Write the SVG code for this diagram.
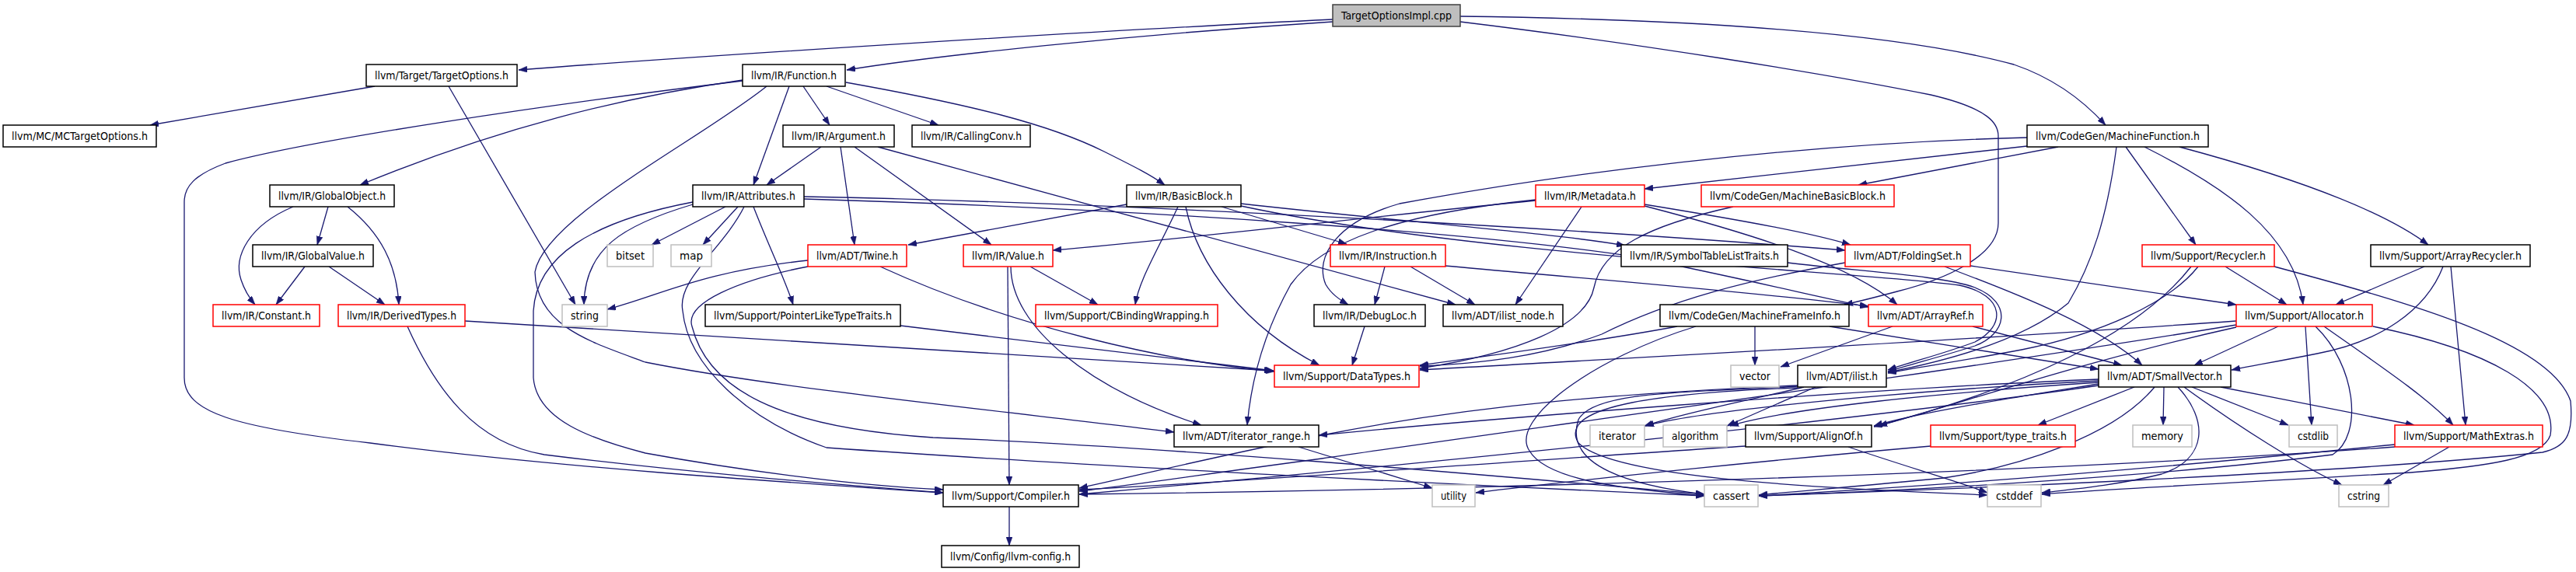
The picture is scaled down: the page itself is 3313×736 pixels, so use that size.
<svg xmlns="http://www.w3.org/2000/svg" width="3313" height="736" viewBox="0 0 3313 736">
<style>
.n rect{fill:#fff;stroke:#000;stroke-width:1.5}
.n.r rect{stroke:#f00}
.n.g rect{stroke:#bfbfbf}
.n.root rect{fill:#bfbfbf;stroke:#404040}
.n text{font-family:"DejaVu Sans Condensed","DejaVu Sans","Liberation Sans",sans-serif;font-size:14px;text-anchor:middle;fill:#000}
#edges path{fill:none;stroke:#191970;stroke-width:1.3;marker-end:url(#ah)}
</style>
<defs>
<marker id="ah" markerUnits="userSpaceOnUse" markerWidth="11" markerHeight="8" refX="11" refY="4" orient="auto">
<path d="M0,0 L11,4 L0,8 z" fill="#191970" stroke="#191970" stroke-width="0.5"/>
</marker>
</defs>
<rect width="3313" height="736" fill="#fff"/>
<g id="edges">
<path d="M1714,25 C1400,40 900,72 667,90"/>
<path d="M1714,28 C1450,45 1200,72 1089,90"/>
<path d="M1878,21 C2200,25 2450,45 2590,83 C2640,100 2680,130 2708,161"/>
<path d="M1878,28 C2100,55 2350,95 2483,122 C2560,140 2570,160 2570,175 L2570,287 C2570,330 2500,360 2440,375 C2410,383 2390,388 2372,392"/>
<path d="M482,111 L193,161"/>
<path d="M577,111 L740,392"/>
<path d="M1033,111 L1067,161"/>
<path d="M1063,111 L1207,161"/>
<path d="M1088,106 C1250,135 1350,160 1420,195 C1460,215 1480,225 1498,238"/>
<path d="M1015,111 L969,238"/>
<path d="M955,103 C800,125 640,165 463,238"/>
<path d="M955,104 C700,135 400,180 290,210 C250,225 237,240 237,260 L237,486 C237,530 300,550 476,570 C700,600 1000,620 1213,634"/>
<path d="M986,111 C900,180 700,280 688,350 C690,420 760,440 830,466 C1000,500 1300,530 1510,556"/>
<path d="M1056,189 L986,238"/>
<path d="M1081,189 L1099,315"/>
<path d="M1099,189 L1275,315"/>
<path d="M1129,189 L1872,392"/>
<path d="M422,266 L408,315"/>
<path d="M377,266 C320,290 300,330 310,360 C315,375 322,385 328,392"/>
<path d="M447,266 C490,300 510,340 513,392"/>
<path d="M392,343 L355,392"/>
<path d="M423,343 L495,392"/>
<path d="M933,266 L838,315"/>
<path d="M949,266 L904,315"/>
<path d="M969,266 C990,320 1010,360 1020,392"/>
<path d="M1034,253 C1500,262 2100,300 2373,322"/>
<path d="M1034,256 C1500,270 1900,300 2100,330 C2250,360 2350,385 2403,395"/>
<path d="M891,263 C800,290 752,320 751,392"/>
<path d="M891,260 C760,285 690,330 686,400 L686,486 C690,540 760,565 830,583 C950,605 1100,625 1213,630"/>
<path d="M957,266 C930,320 870,360 878,400 C885,470 960,540 1063,576 C1400,600 1900,625 2192,638"/>
<path d="M1039,343 C950,360 880,390 890,420 C910,500 1000,550 1200,563 C1500,575 1900,610 2192,636"/>
<path d="M1039,335 C900,350 850,380 781,398"/>
<path d="M1132,343 C1300,420 1500,465 1639,478"/>
<path d="M1296,343 L1298,624"/>
<path d="M1300,343 C1300,420 1400,500 1545,547"/>
<path d="M1325,343 L1412,392"/>
<path d="M1449,263 L1168,315"/>
<path d="M1515,266 C1490,320 1465,360 1460,392"/>
<path d="M1525,266 C1540,340 1600,420 1697,470"/>
<path d="M1571,266 L1732,314"/>
<path d="M1596,262 C1800,285 2000,300 2090,316"/>
<path d="M1596,265 C1900,330 2400,350 2520,367 C2580,380 2580,420 2540,440 C2500,455 2460,465 2428,476"/>
<path d="M2299,338 C2400,350 2500,355 2540,370 C2590,390 2580,430 2540,445 C2500,458 2460,468 2428,478"/>
<path d="M1781,343 L1768,392"/>
<path d="M1814,343 L1897,392"/>
<path d="M1858,342 C2000,355 2250,375 2403,394"/>
<path d="M1975,258 C1750,280 1550,305 1354,322"/>
<path d="M1975,257 C1800,275 1700,310 1660,366 C1630,420 1610,480 1604,547"/>
<path d="M2607,177 C2300,185 2000,225 1800,262 C1720,285 1690,330 1705,366 C1712,378 1722,385 1734,392"/>
<path d="M2034,266 L1949,392"/>
<path d="M2115,263 C2250,285 2330,300 2380,315"/>
<path d="M2115,265 C2250,300 2380,340 2440,392"/>
<path d="M2229,266 C2120,290 2060,320 2050,370 C2040,420 1950,455 1826,474"/>
<path d="M2607,188 L2115,243"/>
<path d="M2647,189 L2390,238"/>
<path d="M2722,189 C2710,280 2690,340 2660,390 C2600,440 2500,465 2428,479"/>
<path d="M2734,189 L2824,315"/>
<path d="M2758,189 C2860,240 2950,300 2962,392"/>
<path d="M2803,189 C2900,215 3050,260 3123,315"/>
<path d="M2257,420 L2257,470"/>
<path d="M2157,420 C2050,440 1900,460 1826,470"/>
<path d="M2181,420 C2050,460 1940,540 1967,580 C1990,620 2100,630 2192,638"/>
<path d="M2353,420 L2699,475"/>
<path d="M2434,420 L2290,472"/>
<path d="M2537,420 L2729,470"/>
<path d="M2373,338 C2250,360 2150,385 2060,430 C1980,460 1900,468 1826,471"/>
<path d="M2501,343 C2600,380 2700,420 2755,470"/>
<path d="M2534,342 L2876,392"/>
<path d="M2862,343 L2941,392"/>
<path d="M2827,343 C2790,390 2700,430 2600,450 C2520,465 2470,472 2428,480"/>
<path d="M2818,343 C2750,430 2600,500 2410,549"/>
<path d="M2925,343 C3100,390 3280,440 3306,516 C3310,560 3300,575 3270,582 C3000,610 2500,630 2262,638"/>
<path d="M3118,343 L3004,392"/>
<path d="M3142,343 C3120,400 3060,440 2980,455 C2930,465 2900,470 2870,476"/>
<path d="M3152,343 L3171,547"/>
<path d="M2876,413 C2500,440 2100,460 1826,476"/>
<path d="M2930,420 L2822,470"/>
<path d="M2965,420 L2973,547"/>
<path d="M2989,420 C3060,470 3120,510 3155,547"/>
<path d="M2876,421 C2700,460 2550,510 2416,548"/>
<path d="M2876,418 C2500,480 1900,560 1700,590 C1550,610 1450,625 1388,632"/>
<path d="M2978,420 C3030,470 3040,560 3000,585 C2800,610 2500,630 2262,638"/>
<path d="M3052,420 C3200,450 3290,500 3280,560 C3270,590 3200,600 3100,608 C2900,620 2700,630 2626,636"/>
<path d="M2745,498 L2621,547"/>
<path d="M2783,498 L2782,547"/>
<path d="M2819,498 L2943,547"/>
<path d="M2809,498 C2880,550 2960,600 3012,624"/>
<path d="M2856,498 L3105,547"/>
<path d="M2801,498 C2840,540 2840,590 2780,610 C2720,625 2660,630 2626,634"/>
<path d="M2771,498 C2720,560 2600,600 2500,615 C2400,625 2300,633 2262,637"/>
<path d="M2699,488 C2400,500 1900,540 1696,560"/>
<path d="M2699,490 C2500,500 2200,525 2116,548"/>
<path d="M2699,492 C2500,505 2300,525 2225,548"/>
<path d="M2699,494 C2600,510 2470,530 2410,548"/>
<path d="M2699,496 C2400,540 1800,600 1388,636"/>
<path d="M3150,575 L3065,624"/>
<path d="M3080,572 C2800,600 2500,625 2262,638"/>
<path d="M3080,575 C2600,610 1900,630 1388,636"/>
<path d="M2377,575 C2450,600 2520,620 2556,634"/>
<path d="M2245,574 C2000,590 1600,620 1388,630"/>
<path d="M2483,574 C2300,590 2050,615 1898,634"/>
<path d="M2320,498 C2250,515 2170,530 2115,548"/>
<path d="M2335,498 L2221,548"/>
<path d="M2312,497 C2200,505 2050,500 2030,540 C2010,600 2100,625 2192,636"/>
<path d="M2312,499 C2150,505 2000,520 2030,570 C2080,620 2400,630 2556,637"/>
<path d="M2312,496 C2100,505 1900,520 1700,560 C1550,590 1450,615 1388,628"/>
<path d="M1670,575 L1842,628"/>
<path d="M598,413 C1000,440 1400,465 1637,477"/>
<path d="M524,420 C560,500 610,570 700,585 C900,610 1100,625 1213,634"/>
<path d="M1158,419 L1638,477"/>
<path d="M1755,420 L1739,470"/>
<path d="M1298,652 L1298,702"/>
</g>
<g id="n0" class="n root"><rect x="1714" y="6" width="164" height="28"/><text x="1796" y="25" textLength="142" lengthAdjust="spacingAndGlyphs">TargetOptionsImpl.cpp</text></g>
<g id="n1" class="n"><rect x="471" y="83" width="194" height="28"/><text x="568" y="102" textLength="172" lengthAdjust="spacingAndGlyphs">llvm/Target/TargetOptions.h</text></g>
<g id="n2" class="n"><rect x="955" y="83" width="132" height="28"/><text x="1021" y="102" textLength="110" lengthAdjust="spacingAndGlyphs">llvm/IR/Function.h</text></g>
<g id="n3" class="n"><rect x="4" y="161" width="197" height="28"/><text x="102.5" y="180" textLength="175" lengthAdjust="spacingAndGlyphs">llvm/MC/MCTargetOptions.h</text></g>
<g id="n4" class="n"><rect x="1007" y="161" width="143" height="28"/><text x="1078.5" y="180" textLength="121" lengthAdjust="spacingAndGlyphs">llvm/IR/Argument.h</text></g>
<g id="n5" class="n"><rect x="1173" y="161" width="152" height="28"/><text x="1249" y="180" textLength="130" lengthAdjust="spacingAndGlyphs">llvm/IR/CallingConv.h</text></g>
<g id="n6" class="n"><rect x="2607" y="161" width="233" height="28"/><text x="2723.5" y="180" textLength="211" lengthAdjust="spacingAndGlyphs">llvm/CodeGen/MachineFunction.h</text></g>
<g id="n7" class="n"><rect x="347" y="238" width="160" height="28"/><text x="427" y="257" textLength="138" lengthAdjust="spacingAndGlyphs">llvm/IR/GlobalObject.h</text></g>
<g id="n8" class="n"><rect x="891" y="238" width="143" height="28"/><text x="962.5" y="257" textLength="121" lengthAdjust="spacingAndGlyphs">llvm/IR/Attributes.h</text></g>
<g id="n9" class="n"><rect x="1449" y="238" width="147" height="28"/><text x="1522.5" y="257" textLength="125" lengthAdjust="spacingAndGlyphs">llvm/IR/BasicBlock.h</text></g>
<g id="n10" class="n r"><rect x="1975" y="238" width="140" height="28"/><text x="2045" y="257" textLength="118" lengthAdjust="spacingAndGlyphs">llvm/IR/Metadata.h</text></g>
<g id="n11" class="n r"><rect x="2188" y="238" width="248" height="28"/><text x="2312" y="257" textLength="226" lengthAdjust="spacingAndGlyphs">llvm/CodeGen/MachineBasicBlock.h</text></g>
<g id="n12" class="n"><rect x="325" y="315" width="155" height="28"/><text x="402.5" y="334" textLength="133" lengthAdjust="spacingAndGlyphs">llvm/IR/GlobalValue.h</text></g>
<g id="n13" class="n g"><rect x="781" y="315" width="59" height="28"/><text x="810.5" y="334" textLength="37" lengthAdjust="spacingAndGlyphs">bitset</text></g>
<g id="n14" class="n g"><rect x="863" y="315" width="52" height="28"/><text x="889" y="334" textLength="30" lengthAdjust="spacingAndGlyphs">map</text></g>
<g id="n15" class="n r"><rect x="1039" y="315" width="127" height="28"/><text x="1102.5" y="334" textLength="105" lengthAdjust="spacingAndGlyphs">llvm/ADT/Twine.h</text></g>
<g id="n16" class="n r"><rect x="1239" y="315" width="115" height="28"/><text x="1296.5" y="334" textLength="93" lengthAdjust="spacingAndGlyphs">llvm/IR/Value.h</text></g>
<g id="n17" class="n r"><rect x="1711" y="315" width="148" height="28"/><text x="1785" y="334" textLength="126" lengthAdjust="spacingAndGlyphs">llvm/IR/Instruction.h</text></g>
<g id="n18" class="n"><rect x="2085" y="315" width="214" height="28"/><text x="2192" y="334" textLength="192" lengthAdjust="spacingAndGlyphs">llvm/IR/SymbolTableListTraits.h</text></g>
<g id="n19" class="n r"><rect x="2373" y="315" width="161" height="28"/><text x="2453.5" y="334" textLength="139" lengthAdjust="spacingAndGlyphs">llvm/ADT/FoldingSet.h</text></g>
<g id="n20" class="n r"><rect x="2755" y="315" width="170" height="28"/><text x="2840" y="334" textLength="148" lengthAdjust="spacingAndGlyphs">llvm/Support/Recycler.h</text></g>
<g id="n21" class="n"><rect x="3049" y="315" width="205" height="28"/><text x="3151.5" y="334" textLength="183" lengthAdjust="spacingAndGlyphs">llvm/Support/ArrayRecycler.h</text></g>
<g id="n22" class="n r"><rect x="274" y="392" width="137" height="28"/><text x="342.5" y="411" textLength="115" lengthAdjust="spacingAndGlyphs">llvm/IR/Constant.h</text></g>
<g id="n23" class="n r"><rect x="435" y="392" width="163" height="28"/><text x="516.5" y="411" textLength="141" lengthAdjust="spacingAndGlyphs">llvm/IR/DerivedTypes.h</text></g>
<g id="n24" class="n g"><rect x="723" y="392" width="58" height="28"/><text x="752" y="411" textLength="36" lengthAdjust="spacingAndGlyphs">string</text></g>
<g id="n25" class="n"><rect x="907" y="392" width="251" height="28"/><text x="1032.5" y="411" textLength="229" lengthAdjust="spacingAndGlyphs">llvm/Support/PointerLikeTypeTraits.h</text></g>
<g id="n26" class="n r"><rect x="1332" y="392" width="234" height="28"/><text x="1449" y="411" textLength="212" lengthAdjust="spacingAndGlyphs">llvm/Support/CBindingWrapping.h</text></g>
<g id="n27" class="n"><rect x="1690" y="392" width="143" height="28"/><text x="1761.5" y="411" textLength="121" lengthAdjust="spacingAndGlyphs">llvm/IR/DebugLoc.h</text></g>
<g id="n28" class="n"><rect x="1856" y="392" width="154" height="28"/><text x="1933" y="411" textLength="132" lengthAdjust="spacingAndGlyphs">llvm/ADT/ilist_node.h</text></g>
<g id="n29" class="n"><rect x="2135" y="392" width="243" height="28"/><text x="2256.5" y="411" textLength="221" lengthAdjust="spacingAndGlyphs">llvm/CodeGen/MachineFrameInfo.h</text></g>
<g id="n30" class="n r"><rect x="2403" y="392" width="147" height="28"/><text x="2476.5" y="411" textLength="125" lengthAdjust="spacingAndGlyphs">llvm/ADT/ArrayRef.h</text></g>
<g id="n31" class="n r"><rect x="2876" y="392" width="175" height="28"/><text x="2963.5" y="411" textLength="153" lengthAdjust="spacingAndGlyphs">llvm/Support/Allocator.h</text></g>
<g id="n32" class="n r"><rect x="1639" y="470" width="186" height="28"/><text x="1732" y="489" textLength="164" lengthAdjust="spacingAndGlyphs">llvm/Support/DataTypes.h</text></g>
<g id="n33" class="n g"><rect x="2226" y="470" width="62" height="28"/><text x="2257" y="489" textLength="40" lengthAdjust="spacingAndGlyphs">vector</text></g>
<g id="n34" class="n"><rect x="2312" y="470" width="114" height="28"/><text x="2369" y="489" textLength="92" lengthAdjust="spacingAndGlyphs">llvm/ADT/ilist.h</text></g>
<g id="n35" class="n"><rect x="2699" y="470" width="170" height="28"/><text x="2784" y="489" textLength="148" lengthAdjust="spacingAndGlyphs">llvm/ADT/SmallVector.h</text></g>
<g id="n36" class="n"><rect x="1510" y="547" width="186" height="28"/><text x="1603" y="566" textLength="164" lengthAdjust="spacingAndGlyphs">llvm/ADT/iterator_range.h</text></g>
<g id="n37" class="n g"><rect x="2045" y="547" width="70" height="28"/><text x="2080" y="566" textLength="48" lengthAdjust="spacingAndGlyphs">iterator</text></g>
<g id="n38" class="n g"><rect x="2139" y="547" width="82" height="28"/><text x="2180" y="566" textLength="60" lengthAdjust="spacingAndGlyphs">algorithm</text></g>
<g id="n39" class="n"><rect x="2245" y="547" width="162" height="28"/><text x="2326" y="566" textLength="140" lengthAdjust="spacingAndGlyphs">llvm/Support/AlignOf.h</text></g>
<g id="n40" class="n r"><rect x="2483" y="547" width="186" height="28"/><text x="2576" y="566" textLength="164" lengthAdjust="spacingAndGlyphs">llvm/Support/type_traits.h</text></g>
<g id="n41" class="n g"><rect x="2743" y="547" width="76" height="28"/><text x="2781" y="566" textLength="54" lengthAdjust="spacingAndGlyphs">memory</text></g>
<g id="n42" class="n g"><rect x="2944" y="547" width="62" height="28"/><text x="2975" y="566" textLength="40" lengthAdjust="spacingAndGlyphs">cstdlib</text></g>
<g id="n43" class="n r"><rect x="3080" y="547" width="190" height="28"/><text x="3175" y="566" textLength="168" lengthAdjust="spacingAndGlyphs">llvm/Support/MathExtras.h</text></g>
<g id="n44" class="n"><rect x="1213" y="624" width="174" height="28"/><text x="1300" y="643" textLength="152" lengthAdjust="spacingAndGlyphs">llvm/Support/Compiler.h</text></g>
<g id="n45" class="n g"><rect x="1842" y="624" width="55" height="28"/><text x="1869.5" y="643" textLength="33" lengthAdjust="spacingAndGlyphs">utility</text></g>
<g id="n46" class="n g"><rect x="2192" y="624" width="69" height="28"/><text x="2226.5" y="643" textLength="47" lengthAdjust="spacingAndGlyphs">cassert</text></g>
<g id="n47" class="n g"><rect x="2556" y="624" width="69" height="28"/><text x="2590.5" y="643" textLength="47" lengthAdjust="spacingAndGlyphs">cstddef</text></g>
<g id="n48" class="n g"><rect x="3008" y="624" width="64" height="28"/><text x="3040" y="643" textLength="42" lengthAdjust="spacingAndGlyphs">cstring</text></g>
<g id="n49" class="n"><rect x="1211" y="702" width="177" height="28"/><text x="1299.5" y="721" textLength="155" lengthAdjust="spacingAndGlyphs">llvm/Config/llvm-config.h</text></g>
</svg>
